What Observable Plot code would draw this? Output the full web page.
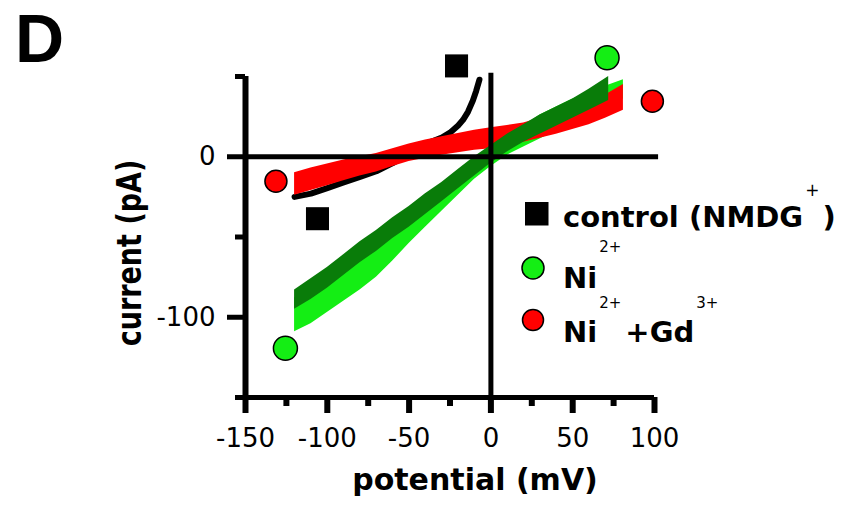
<!DOCTYPE html>
<html>
<head>
<meta charset="utf-8">
<script src="https://cdn.jsdelivr.net/npm/d3@7"></script>
<script src="https://cdn.jsdelivr.net/npm/@observablehq/plot@0.6"></script>
<style>
  html, body { margin: 0; padding: 0; background: #fff; }
</style>
</head>
<body>
<div id="chart"></div>
<script>
// Axis ticks (mV and pA)
const xTicks = [-150, -100, -50, 0, 50, 100];
const xMinor = [-125, -75, -25, 25, 75];
const yTicks = [0, -100];
const yMinor = [50, -50, -150];

// Control (NMDG+) ramp: centre of the trace
const ctlV = [-120, -110, -100, -90, -80, -70, -60, -50, -45, -40, -35, -30, -25, -20, -17, -14, -11, -9, -7];
const ctlI = [-25, -23, -19.5, -16, -12.5, -9, -4, 2, 5, 8, 10, 12, 15, 19.5, 23, 28, 35, 41, 48];

// Ni2+ ramp, first recording (light green): lower / upper edge of the noisy trace
const niAV  = [-120, -110, -100, -90, -80, -70, -60, -50, -40, -30, -20, -10, 0, 10, 20, 30, 40, 50, 60, 70, 81];
const niALo = [-109, -104, -97, -90, -83, -75, -65, -54, -44, -34, -24, -14, -6, 1, 6, 11, 16, 21, 26, 31, 36];
const niAHi = [-88, -80, -73, -66, -59, -51, -43, -35, -27, -19, -11, -3, 5, 13, 19, 26, 31, 36, 40, 44, 48];

// Ni2+ ramp, second recording (dark green)
const niBV  = [-120, -110, -100, -90, -80, -70, -60, -50, -40, -30, -20, -10, 0, 10, 20, 30, 40, 50, 60, 72];
const niBLo = [-95, -89, -82, -74, -66, -59, -51, -44, -36, -28, -20, -12, -4, 3, 9, 14, 19, 24, 29, 35];
const niBHi = [-83, -76, -69, -61, -53, -46, -38, -31, -23, -16, -8, 0, 7, 14, 20, 26, 31, 36, 42, 50];

// Ni2+ + Gd3+ ramp (red)
const gdV  = [-120, -110, -100, -90, -80, -70, -60, -50, -40, -30, -20, -10, 0, 10, 20, 30, 40, 50, 60, 70, 81];
const gdLo = [-24, -21, -18, -15, -12, -9.5, -6, -3, -1, 1, 2.5, 4, 5, 7, 9, 11.5, 14, 17, 20, 24, 29];
const gdHi = [-10, -7, -4.5, -2, 0, 2, 5, 8, 10.5, 12.5, 14.5, 16.5, 18, 19.5, 21, 24, 27, 30.5, 34, 38.5, 45];

// Mean currents at the ramp ends (symbols)
const ctlSymV = [-106, -21];
const ctlSymI = [-38.6, 56.6];
const niSymV = [-125.6, 71];
const niSymI = [-119.3, 61.7];
const gdSymV = [-131.4, 98.7];
const gdSymI = [-15.3, 34.6];

const band = (v, lo, hi) => v.map((x, i) => ({v: x, lo: lo[i], hi: hi[i]}));
const pts = (v, c) => v.map((x, i) => ({v: x, i: c[i]}));

const ctl = pts(ctlV, ctlI);
const niA = band(niAV, niALo, niAHi);
const niB = band(niBV, niBLo, niBHi);
const gd = band(gdV, gdLo, gdHi);

const GREEN = "#14ee14", DARK = "#097c09", RED = "#ff0000";
const FONT = "'DejaVu Sans', sans-serif";

const plot = Plot.plot({
  width: 842,
  height: 506,
  marginLeft: 245,
  marginRight: 188,
  marginTop: 76,
  marginBottom: 109,
  x: {domain: [-150, 100]},
  y: {domain: [-150, 50]},
  style: {fontFamily: FONT, background: "#fff", color: "#000", overflow: "visible"},
  marks: [
    // recordings
    Plot.line(ctl, {x: "v", y: "i", stroke: "#000", strokeWidth: 6, strokeLinejoin: "round"}),
    Plot.areaY(niA, {x: "v", y1: "lo", y2: "hi", fill: GREEN}),
    Plot.areaY(gd, {x: "v", y1: "lo", y2: "hi", fill: RED}),
    Plot.areaY(niB, {x: "v", y1: "lo", y2: "hi", fill: DARK}),

    // axis lines and zero lines
    Plot.ruleX([{x: -150, a: -150, b: 50}], {x: "x", y1: "a", y2: "b", stroke: "#000", strokeWidth: 6}),
    Plot.ruleY([{y: -150, a: -150, b: 100}], {y: "y", x1: "a", x2: "b", stroke: "#000", strokeWidth: 5}),
    Plot.ruleX([{x: 0, a: -150, b: 52}], {x: "x", y1: "a", y2: "b", stroke: "#000", strokeWidth: 5}),
    Plot.ruleY([{y: 0, a: -150, b: 102.5}], {y: "y", x1: "a", x2: "b", stroke: "#000", strokeWidth: 5}),

    // ticks
    Plot.axisX({ticks: xTicks, tickSize: 16, tickPadding: 15, strokeWidth: 6, fontSize: 26,
      label: null, tickFormat: d => String(d)}),
    Plot.axisX({ticks: xMinor, tickSize: 9, strokeWidth: 6, label: null, tickFormat: () => ""}),
    Plot.axisY({ticks: yTicks, tickSize: 18, tickPadding: 12, strokeWidth: 5, fontSize: 26,
      label: null, tickFormat: d => String(d)}),
    Plot.axisY({ticks: yMinor, tickSize: 10, strokeWidth: 5, label: null, tickFormat: () => ""}),

    // end-point symbols
    Plot.dot(pts(ctlSymV, ctlSymI), {x: "v", y: "i", symbol: "square", r: 13, fill: "#000"}),
    Plot.dot(pts(niSymV, niSymI), {x: "v", y: "i", r: 12, fill: GREEN, stroke: "#000", strokeWidth: 1.5}),
    Plot.dot(pts(gdSymV, gdSymI), {x: "v", y: "i", r: 11, fill: RED, stroke: "#000", strokeWidth: 1.5})
  ]
});

const svg = d3.select(plot);

// panel letter
svg.append("text")
  .attr("x", 15).attr("y", 62)
  .attr("text-anchor", "start")
  .attr("font-family", "'Liberation Sans', Arial, sans-serif")
  .attr("font-weight", "bold").attr("font-size", 68)
  .text("D");

// axis titles
svg.append("text")
  .attr("x", 475).attr("y", 490)
  .attr("text-anchor", "middle")
  .attr("font-family", FONT).attr("font-weight", "bold").attr("font-size", 30)
  .text("potential (mV)");

svg.append("text")
  .attr("transform", "translate(141,253) scale(1.25,1) rotate(-90)")
  .attr("text-anchor", "middle")
  .attr("font-family", FONT).attr("font-weight", "bold").attr("font-size", 27)
  .text("current (pA)");

// legend
const lg = svg.append("g")
  .attr("text-anchor", "start")
  .attr("font-family", FONT).attr("font-weight", "bold").attr("font-size", 29);

lg.append("rect").attr("x", 525).attr("y", 202).attr("width", 23.5).attr("height", 23.5).attr("fill", "#000");
lg.append("circle").attr("cx", 533).attr("cy", 268).attr("r", 11)
  .attr("fill", GREEN).attr("stroke", "#000").attr("stroke-width", 1.5);
lg.append("circle").attr("cx", 533).attr("cy", 320).attr("r", 10.5)
  .attr("fill", RED).attr("stroke", "#000").attr("stroke-width", 1.5);

const t1 = lg.append("text").attr("x", 563).attr("y", 227);
t1.append("tspan").text("control (NMDG");
t1.append("tspan").attr("dx", 2).attr("dy", -31).attr("font-size", 17).attr("font-weight", "normal").text("+");
t1.append("tspan").attr("dx", 3).attr("dy", 31).text(")");

const t2 = lg.append("text").attr("x", 563).attr("y", 288);
t2.append("tspan").text("Ni");
t2.append("tspan").attr("dx", 2).attr("dy", -36).attr("font-size", 15).attr("font-weight", "normal").text("2+");

const t3 = lg.append("text").attr("x", 563).attr("y", 342);
t3.append("tspan").text("Ni");
t3.append("tspan").attr("dx", 2).attr("dy", -34).attr("font-size", 15).attr("font-weight", "normal").text("2+");
t3.append("tspan").attr("dx", 4).attr("dy", 34).text("+Gd");
t3.append("tspan").attr("dx", 2).attr("dy", -34).attr("font-size", 15).attr("font-weight", "normal").text("3+");

document.getElementById("chart").appendChild(plot);
</script>
</body>
</html>
